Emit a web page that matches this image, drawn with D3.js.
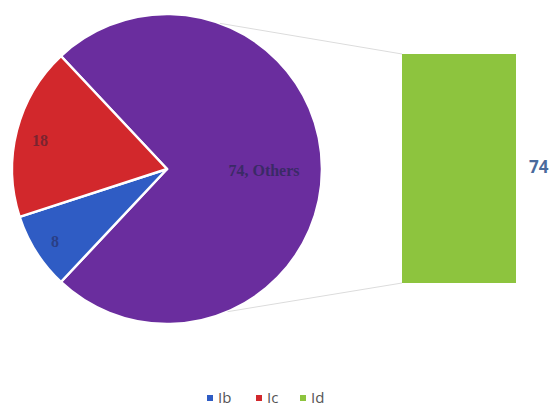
<!DOCTYPE html>
<html><head><meta charset="utf-8">
<script src="https://cdn.jsdelivr.net/npm/d3@7"></script>
<style>html,body{margin:0;padding:0;background:#fff;}svg{display:block;}</style>
</head><body>
<svg id="c" width="558" height="409"></svg>
<script>
const categories = ["Ib", "Ic", "Id"];
const values = [8, 18, 74];
const colors = ["#2f5cc4", "#d2282c", "#8dc43e"];
const pieLabels = ["8", "18", "74, Others"];
const otherColor = "#6a2d9e";
const barLabel = "74";

const svg = d3.select("#c");
const total = d3.sum(values);

const pieData = [
  {name: "Others", value: values[2], color: otherColor, label: pieLabels[2]},
  {name: categories[0], value: values[0], color: colors[0], label: pieLabels[0]},
  {name: categories[1], value: values[1], color: colors[1], label: pieLabels[1]}
];
const otherFrac = values[2] / total;
const start = Math.PI / 2 - otherFrac * Math.PI;
const pie = d3.pie().sort(null).value(d => d.value).startAngle(start).endAngle(start + 2 * Math.PI);
const cx = 167, cy = 169, R = 155;
const arc = d3.arc().innerRadius(0).outerRadius(R);
const g = svg.append("g").attr("transform", `translate(${cx},${cy})`);
const arcs = pie(pieData);

const conn = svg.append("g");
const barX = d3.scaleBand().domain([categories[2]]).range([402, 516]).padding(0);
const barY = d3.scaleLinear().domain([0, values[2]]).range([283, 54]);
const topA = 20 * Math.PI / 180, botA = 157 * Math.PI / 180;
conn.append("line")
  .attr("x1", cx + R * Math.sin(topA)).attr("y1", cy - R * Math.cos(topA))
  .attr("x2", barX(categories[2])).attr("y2", barY(values[2]))
  .attr("stroke", "#dcdcdc").attr("stroke-width", 1);
conn.append("line")
  .attr("x1", cx + R * Math.sin(botA)).attr("y1", cy - R * Math.cos(botA))
  .attr("x2", barX(categories[2])).attr("y2", barY(0))
  .attr("stroke", "#dcdcdc").attr("stroke-width", 1);

g.selectAll("path").data(arcs).join("path")
  .attr("d", arc)
  .attr("fill", d => d.data.color)
  .attr("stroke", "#fff").attr("stroke-width", 2.5).attr("stroke-linejoin", "round");

const labelPos = [
  [97, 3],
  [-112, 74],
  [-127, -27]
];
g.selectAll("text.pl").data(arcs).join("text")
  .attr("class", "pl")
  .attr("x", (d, i) => labelPos[i][0])
  .attr("y", (d, i) => labelPos[i][1])
  .attr("text-anchor", "middle")
  .attr("dominant-baseline", "middle")
  .attr("font-family", "Liberation Serif, DejaVu Serif, serif")
  .attr("font-size", 16)
  .attr("font-weight", "bold")
  .attr("fill", (d, i) => i === 0 ? "#3a2a66" : (i === 1 ? "#2a3f86" : "#7a2430"))
  .text(d => d.data.label);

svg.append("rect")
  .attr("x", barX(categories[2]))
  .attr("y", barY(values[2]))
  .attr("width", barX.bandwidth())
  .attr("height", barY(0) - barY(values[2]))
  .attr("fill", colors[2]);
svg.append("text")
  .attr("x", 529).attr("y", barY(values[2] / 2))
  .attr("dominant-baseline", "middle")
  .attr("font-family", "Open Sans, Liberation Sans, sans-serif")
  .attr("font-weight", "bold")
  .attr("font-size", 17)
  .attr("fill", "#4a6a9c")
  .text(barLabel);

const lx = [207, 256, 300];
const leg = svg.append("g");
categories.forEach((c, i) => {
  leg.append("rect").attr("x", lx[i]).attr("y", 395).attr("width", 6).attr("height", 6).attr("fill", colors[i]);
  leg.append("text").attr("x", lx[i] + 11).attr("y", 403)
    .attr("font-family", "Open Sans, Liberation Sans, sans-serif")
    .attr("font-size", 15).attr("fill", "#555")
    .text(c);
});
</script>
</body></html>
